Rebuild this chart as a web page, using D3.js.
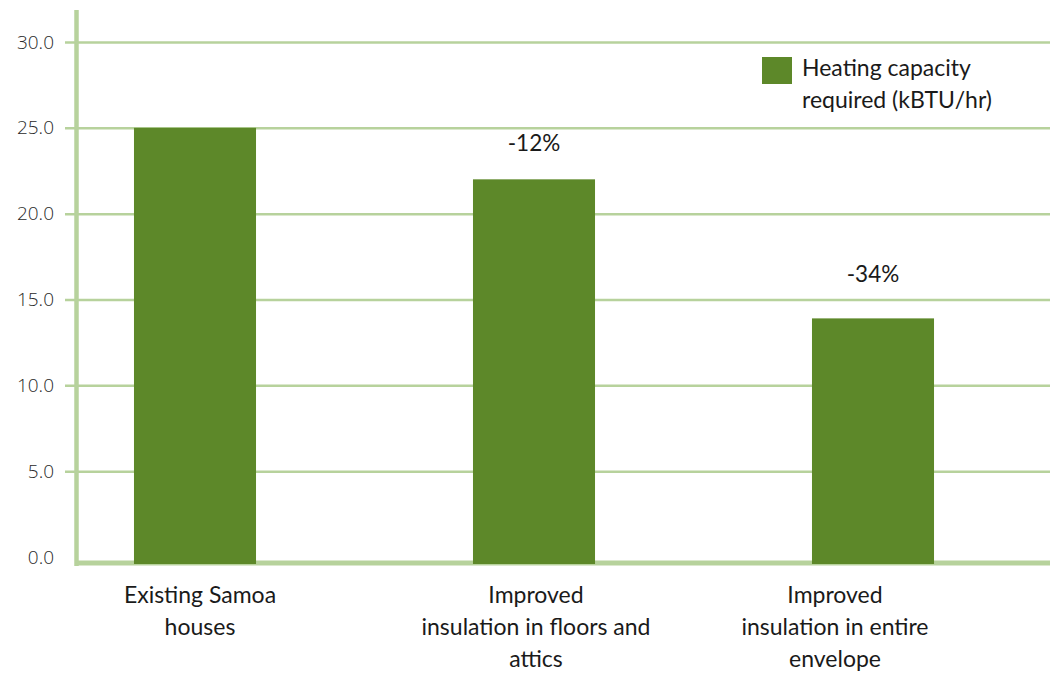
<!DOCTYPE html>
<html lang="en">
<head>
<meta charset="UTF-8">
<title>Heating capacity required</title>
<style>
  body { margin: 0; background: #fff; }
  text { font-family: Lato, "Noto Sans", sans-serif; fill: #1a1a1a; }
</style>
</head>
<body>
<script src="https://cdn.jsdelivr.net/npm/d3@7"></script>
<script>
// chart data
const categories = [
  ["Existing Samoa", "houses"],
  ["Improved", "insulation in floors and", "attics"],
  ["Improved", "insulation in entire", "envelope"]
];
const values = [25.0, 22.0, 13.9];
const changeLabels = ["", "-12%", "-34%"];
const yTicks = [0, 5, 10, 15, 20, 25, 30];
const seriesName = ["Heating capacity", "required (kBTU/hr)"];

const W = 1050, H = 673;
const barColor = "#5d8829", gridColor = "#b7d29c";
// category labels are not exactly centred under the bars in the original
const labelShift = [5, 2, -38];

const svg = d3.select("body").append("svg")
  .attr("width", W).attr("height", H);

const y = d3.scaleLinear().domain([0, 30]).range([557, 42]);
const x = d3.scaleBand()
  .domain(d3.range(categories.length))
  .range([25.5, 1042.5])
  .paddingInner(0.64)
  .paddingOuter(0.32);

// gridlines + tick labels
const yAxis = d3.axisLeft(y)
  .tickValues(yTicks)
  .tickSize(-(W - 77))
  .tickPadding(20)
  .tickFormat(d3.format(".1f"));

const gy = svg.append("g").attr("transform", "translate(77,0)").call(yAxis);
gy.select(".domain").remove();
gy.selectAll(".tick line")
  .attr("x1", -12)
  .attr("stroke", gridColor).attr("stroke-width", 2.5);
gy.selectAll(".tick text")
  .attr("x", -23)
  .style("font-family", "'Open Sans', sans-serif")
  .style("font-weight", 300)
  .style("font-size", "19px")
  .style("fill", "#2a2a2a");
gy.selectAll(".tick").filter(d => d === 0).select("line").remove();

// vertical axis line
svg.append("line")
  .attr("x1", 76.5).attr("x2", 76.5)
  .attr("y1", 10).attr("y2", 566)
  .attr("stroke", gridColor).attr("stroke-width", 4.5);

// bottom axis line
svg.append("line")
  .attr("x1", 76).attr("x2", W)
  .attr("y1", y(0) + 6).attr("y2", y(0) + 6)
  .attr("stroke", gridColor).attr("stroke-width", 5);

// bars
svg.selectAll("rect.bar")
  .data(values)
  .enter().append("rect")
  .attr("class", "bar")
  .attr("x", (d, i) => x(i))
  .attr("width", x.bandwidth())
  .attr("y", d => y(d))
  .attr("height", d => y(0) - y(d) + 7)
  .attr("fill", barColor);

// change labels
svg.selectAll("text.chg")
  .data(values)
  .enter().append("text")
  .attr("class", "chg")
  .attr("x", (d, i) => x(i) + x.bandwidth() / 2)
  .attr("y", (d, i) => y(d) - (i === 1 ? 28 : 36))
  .attr("text-anchor", "middle")
  .style("font-size", "22.5px")
  .text((d, i) => changeLabels[i]);

// category labels
const cat = svg.selectAll("text.cat")
  .data(categories)
  .enter().append("text")
  .attr("class", "cat")
  .attr("text-anchor", "middle")
  .style("font-size", "23px");
cat.selectAll("tspan")
  .data((d, i) => d.map(s => ({ s, i })))
  .enter().append("tspan")
  .attr("x", d => x(d.i) + x.bandwidth() / 2 + labelShift[d.i])
  .attr("y", (d, j) => 603 + j * 32)
  .text(d => d.s);

// legend
const lg = svg.append("g").attr("transform", "translate(762,57)");
lg.append("rect").attr("width", 30).attr("height", 27).attr("fill", barColor);
lg.selectAll("text")
  .data(seriesName)
  .enter().append("text")
  .attr("x", 40)
  .attr("y", (d, i) => 19 + i * 32)
  .style("font-size", "23px")
  .text(d => d);
</script>
</body>
</html>
